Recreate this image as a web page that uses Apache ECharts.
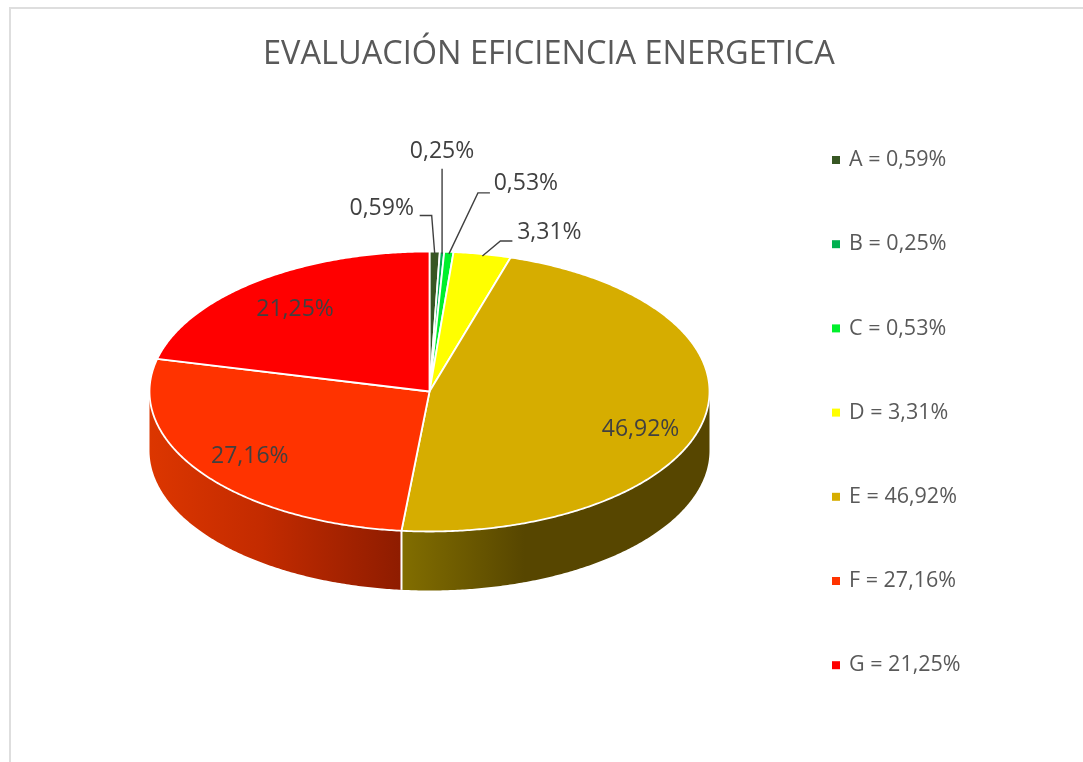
<!DOCTYPE html>
<html>
<head>
<meta charset="utf-8">
<title>Evaluación eficiencia energetica</title>
<script src="https://cdn.jsdelivr.net/npm/echarts@6/dist/echarts.min.js"></script>
<style>
  html, body { margin: 0; padding: 0; background: #fff; }
  #chart { width: 1083px; height: 762px; }
</style>
</head>
<body>
<div id="chart"></div>
<script>
// datos del grafico
const categories = ['A', 'B', 'C', 'D', 'E', 'F', 'G'];
const values = [0.59, 0.25, 0.53, 3.31, 46.92, 27.16, 21.25];
const colors = ['#375623', '#00B050', '#00F02C', '#FFFF00', '#D6AD00', '#FF3300', '#FF0000'];
const chartTitle = 'EVALUACIÓN EFICIENCIA ENERGETICA';

// geometria del pie "3D"
const cx = 429.5, cy = 391.5, rx = 280, ry = 140, depth = 59;
const FONT = '"Open Sans", "Noto Sans", sans-serif';
const total = values.reduce((a, b) => a + b, 0);

// gradientes de la pared lateral, solo se ven E y F
const wallStops = {
  E: [[0, '#826E00'], [0.4, '#574600'], [1, '#574600']],
  F: [[0, '#DC3600'], [0.45, '#C32B00'], [1, '#8E1C00']]
};
// posicion de etiquetas: ancla sobre el borde y codo de la linea guia
const labelLayout = {
  A: { dx: -53, dy: -43, elbow: [[-3, -36], [-15, -36]] },
  B: { dx: 0, dy: -100, elbow: [[0, -83]] },
  C: { dx: 77, dy: -68, elbow: [[29, -59], [41, -59]] },
  D: { dx: 67, dy: -22, elbow: [[18, -13], [30, -13]] },
  E: { k: 0.787, dx: -5, dy: 16.5 },
  F: { k: 0.787, dx: 0, dy: 1.5 },
  G: { k: 0.787, dx: 2, dy: 4.5 }
};

const fmt = v => v.toFixed(2).replace('.', ',');
const legendName = i => categories[i] + ' = ' + fmt(values[i]) + '%';
const toAngle = v => echarts.number.linearMap(v, [0, total], [0, 360]);
const rim = deg => {
  const r = deg * Math.PI / 180;
  return [cx + rx * Math.sin(r), cy - ry * Math.cos(r)];
};
const arc = (a0, a1) => {
  const n = Math.max(2, Math.ceil(Math.abs(a1 - a0) * 2));
  const pts = [];
  for (let i = 0; i <= n; i++) pts.push(rim(a0 + (a1 - a0) * i / n));
  return pts;
};

function renderSlice(i) {
  return function (params, api) {
    const before = values.slice(0, i).reduce((a, b) => a + b, 0);
    const a0 = toAngle(before);
    const a1 = toAngle(before + api.value(0));
    const mid = (a0 + a1) / 2;
    const children = [];

    // pared lateral, solo la mitad delantera
    const w0 = Math.max(a0, 90), w1 = Math.min(a1, 270);
    if (w1 > w0) {
      const top = arc(w0, w1);
      const bottom = top.map(p => [p[0], p[1] + depth]).reverse();
      const stops = wallStops[categories[i]] || [[0, colors[i]], [1, colors[i]]];
      children.push({
        type: 'polygon',
        z2: 1,
        shape: { points: top.concat(bottom) },
        style: {
          fill: new echarts.graphic.LinearGradient(0, 0, 1, 0,
            stops.map(s => ({ offset: s[0], color: s[1] })))
        }
      });
      if (a0 > 90 && a0 < 270) {
        const p = rim(a0);
        children.push({
          type: 'line',
          z2: 2,
          shape: { x1: p[0], y1: p[1], x2: p[0], y2: p[1] + depth },
          style: { stroke: '#fff', lineWidth: 2 }
        });
      }
    }

    // cara superior
    children.push({
      type: 'polygon',
      z2: 3,
      shape: { points: [[cx, cy]].concat(arc(a0, a1)) },
      style: { fill: colors[i], stroke: '#fff', lineWidth: 1.8, lineJoin: 'round' }
    });

    // etiqueta de datos
    const lay = labelLayout[categories[i]];
    const anchor = rim(mid);
    let lx, ly;
    if (lay.k) {
      lx = cx + (anchor[0] - cx) * lay.k + lay.dx;
      ly = cy + (anchor[1] - cy) * lay.k + lay.dy;
    } else {
      lx = anchor[0] + lay.dx;
      ly = anchor[1] + lay.dy;
      const start = [anchor[0], anchor[1] + 2];
      children.push({
        type: 'polyline',
        z2: 4,
        shape: { points: [start].concat(lay.elbow.map(e => [anchor[0] + e[0], anchor[1] + e[1]])) },
        style: { stroke: '#404040', lineWidth: 1.4, fill: 'none' }
      });
    }
    children.push({
      type: 'text',
      z2: 5,
      style: {
        text: fmt(api.value(0)) + '%',
        x: lx, y: ly,
        align: 'center', verticalAlign: 'middle',
        font: '23px ' + FONT,
        fill: '#404040'
      }
    });
    return { type: 'group', children: children };
  };
}

const chart = echarts.init(document.getElementById('chart'));
chart.setOption({
  animation: false,
  backgroundColor: '#fff',
  title: {
    text: chartTitle,
    left: 263,
    top: 38,
    padding: 0,
    textStyle: { fontFamily: FONT, fontSize: 32.5, fontWeight: 'normal', color: '#595959' }
  },
  legend: {
    orient: 'vertical',
    left: 832,
    top: 149,
    padding: 0,
    itemWidth: 8,
    itemHeight: 8,
    itemGap: 62.2,
    icon: 'rect',
    selectedMode: false,
    data: categories.map((c, i) => legendName(i)),
    textStyle: { fontFamily: FONT, fontSize: 21.5, color: '#595959', padding: [0, 0, 0, 4] }
  },
  graphic: [{
    type: 'polyline',
    silent: true,
    shape: { points: [[10, 762], [10, 8], [1083, 8]] },
    style: { stroke: '#DEDEDE', lineWidth: 2, fill: 'none' }
  }],
  series: categories.map((c, i) => ({
    type: 'custom',
    name: legendName(i),
    coordinateSystem: 'none',
    itemStyle: { color: colors[i] },
    renderItem: renderSlice(i),
    data: [[values[i]]]
  }))
});
</script>
</body>
</html>
